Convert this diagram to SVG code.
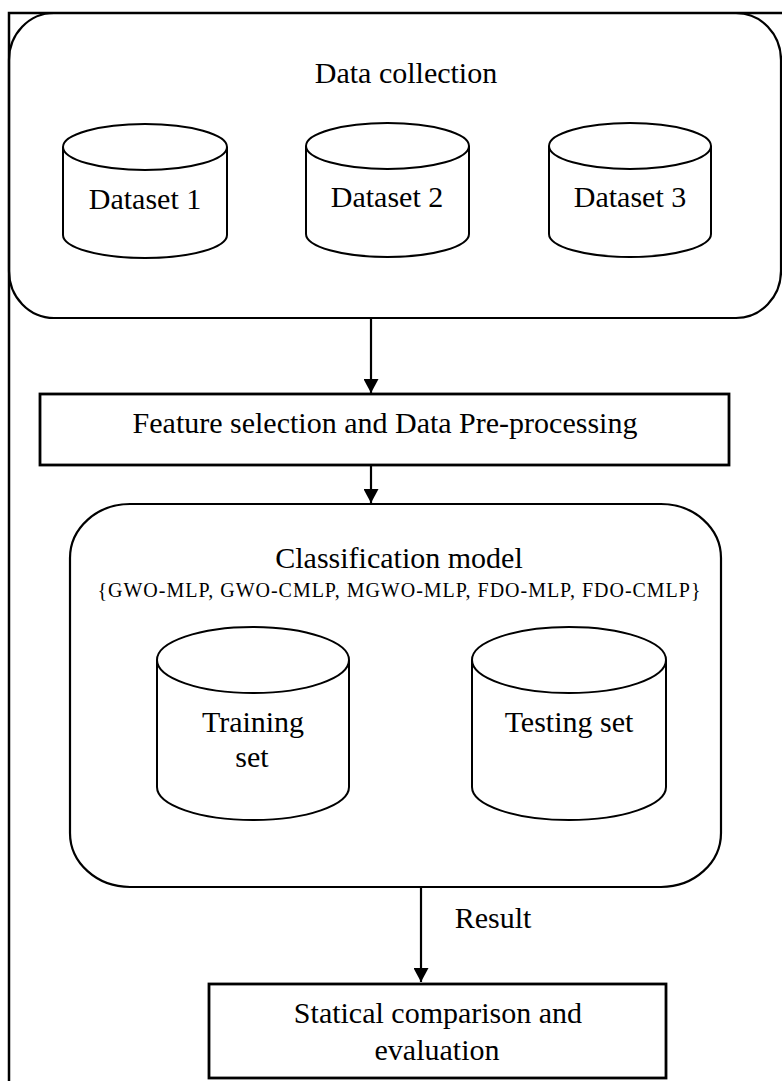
<svg xmlns="http://www.w3.org/2000/svg" width="782" height="1081" viewBox="0 0 782 1081">
<defs>
<style>
.ln{fill:none;stroke:#000;stroke-width:2.2}
.bx{fill:#fff;stroke:#000;stroke-width:2.8}
.cy{fill:#fff;stroke:#000;stroke-width:2}
.t{font-family:"Liberation Serif","Times New Roman",serif;font-size:30px;fill:#000;text-anchor:middle}
.s{font-family:"Liberation Serif","Times New Roman",serif;font-size:20px;fill:#000;text-anchor:middle}
</style>
<marker id="ah" viewBox="0 0 14 15" refX="14" refY="7.5" markerWidth="14" markerHeight="15" markerUnits="userSpaceOnUse" orient="auto">
<path d="M0,0 L14,7.5 L0,15 Z" fill="#000"/>
</marker>
</defs>
<rect width="782" height="1081" fill="#fff"/>
<path id="frame" d="M9,1081 L9,13 L782,13" fill="none" stroke="#000" stroke-width="2.5"/>

<g id="data-collection">
<rect x="9" y="13" width="772" height="305" rx="45" ry="47" class="ln" stroke-width="2.5"/>
<text class="t" x="406" y="83">Data collection</text>
</g>
<g id="dataset1">
<path class="cy" d="M63,147 L63,235 A82,23 0 0 0 227,235 L227,147"/>
<ellipse class="cy" cx="145" cy="147" rx="82" ry="23"/>
<text class="t" x="145" y="209">Dataset 1</text>
</g>
<g id="dataset2">
<path class="cy" d="M306,146 L306,234 A81.5,23 0 0 0 469,234 L469,146"/>
<ellipse class="cy" cx="387.5" cy="146" rx="81.5" ry="23"/>
<text class="t" x="387" y="207">Dataset 2</text>
</g>
<g id="dataset3">
<path class="cy" d="M549,146 L549,234 A81,23 0 0 0 711,234 L711,146"/>
<ellipse class="cy" cx="630" cy="146" rx="81" ry="23"/>
<text class="t" x="630" y="207">Dataset 3</text>
</g>

<g id="feature-selection">
<rect class="bx" x="40" y="394" width="689" height="71"/>
<text class="t" x="385" y="433">Feature selection and Data Pre-processing</text>
</g>

<g id="classification-model">
<rect class="ln" x="70" y="504" width="651" height="383" rx="60" ry="54"/>
<text class="t" x="399" y="568">Classification model</text>
<text class="s" x="399" y="597" textLength="603" lengthAdjust="spacing">{GWO-MLP, GWO-CMLP, MGWO-MLP, FDO-MLP, FDO-CMLP}</text>
</g>
<g id="training-set">
<path class="cy" d="M157,660 L157,787 A96,33 0 0 0 349,787 L349,660"/>
<ellipse class="cy" cx="253" cy="660" rx="96" ry="33"/>
<text class="t" x="253" y="732">Training</text>
<text class="t" x="252" y="767">set</text>
</g>
<g id="testing-set">
<path class="cy" d="M472,660 L472,787 A97,33 0 0 0 666,787 L666,660"/>
<ellipse class="cy" cx="569" cy="660" rx="97" ry="33"/>
<text class="t" x="569" y="732">Testing set</text>
</g>

<g id="evaluation">
<rect class="bx" x="209" y="984" width="457" height="94"/>
<text class="t" x="438" y="1023">Statical comparison and</text>
<text class="t" x="437" y="1060">evaluation</text>
</g>

<g id="connectors">
<line class="ln" x1="371" y1="319" x2="371" y2="393" marker-end="url(#ah)"/>
<line class="ln" x1="371" y1="465" x2="371" y2="503" marker-end="url(#ah)"/>
<line class="ln" x1="421" y1="888" x2="421" y2="982" marker-end="url(#ah)"/>
<text class="t" x="493" y="928">Result</text>
</g>
</svg>
